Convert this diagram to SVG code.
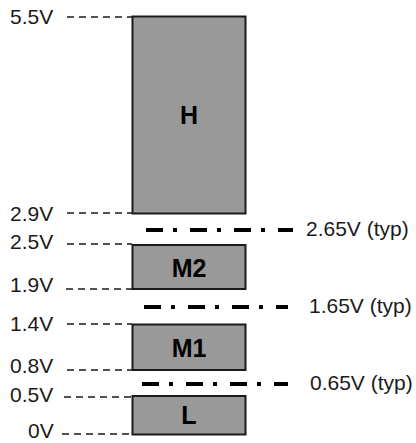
<svg xmlns="http://www.w3.org/2000/svg" width="416" height="443" viewBox="0 0 416 443">
<style>
.box{fill:#999999;stroke:#1a1a1a;stroke-width:2}
.lbl{font-family:"Liberation Sans",Arial,sans-serif;font-size:21px;fill:#1a1a1a}
.bl{font-family:"Liberation Sans",Arial,sans-serif;font-size:25px;font-weight:bold;fill:#000;text-anchor:middle}
.dash{stroke:#1a1a1a;stroke-width:1.5;stroke-dasharray:7 5;fill:none}
.dd{stroke:#000;stroke-width:4;stroke-dasharray:17 10 4 13;fill:none}
</style>
<rect width="416" height="443" fill="#fff"/>
<g id="connectors">
<line class="dash" x1="67" y1="17" x2="132" y2="17"/>
<line class="dash" x1="67" y1="213" x2="132" y2="213"/>
<line class="dash" x1="67" y1="244" x2="132" y2="244"/>
<line class="dash" x1="66" y1="289" x2="132" y2="289"/>
<line class="dash" x1="67" y1="324" x2="132" y2="324"/>
<line class="dash" x1="67" y1="370" x2="132" y2="370"/>
<line class="dash" x1="64" y1="397" x2="132" y2="397"/>
<line class="dash" x1="62" y1="434" x2="132" y2="434"/>
<line class="dd" x1="146" y1="230" x2="293" y2="230"/>
<line class="dd" x1="144" y1="307" x2="288" y2="307"/>
<line class="dd" x1="142" y1="384" x2="288" y2="384"/>
</g>
<g id="labels">
<text class="lbl" x="10" y="24">5.5V</text>
<text class="lbl" x="10" y="221">2.9V</text>
<text class="lbl" x="10" y="249">2.5V</text>
<text class="lbl" x="10" y="292">1.9V</text>
<text class="lbl" x="10" y="331">1.4V</text>
<text class="lbl" x="10" y="373">0.8V</text>
<text class="lbl" x="10" y="402">0.5V</text>
<text class="lbl" x="28" y="438">0V</text>
<text class="lbl" x="306" y="236">2.65V (typ)</text>
<text class="lbl" x="309" y="313">1.65V (typ)</text>
<text class="lbl" x="310" y="390">0.65V (typ)</text>
</g>
<g id="H"><rect class="box" x="132.5" y="16.5" width="113" height="197"/><text class="bl" x="189" y="124">H</text></g>
<g id="M2"><rect class="box" x="132.5" y="245" width="113" height="44"/><text class="bl" x="189" y="277">M2</text></g>
<g id="M1"><rect class="box" x="132.5" y="324.5" width="113" height="45.5"/><text class="bl" x="189" y="356.5">M1</text></g>
<g id="L"><rect class="box" x="132.5" y="396" width="113" height="38.5"/><text class="bl" x="189" y="424">L</text></g>
</svg>
